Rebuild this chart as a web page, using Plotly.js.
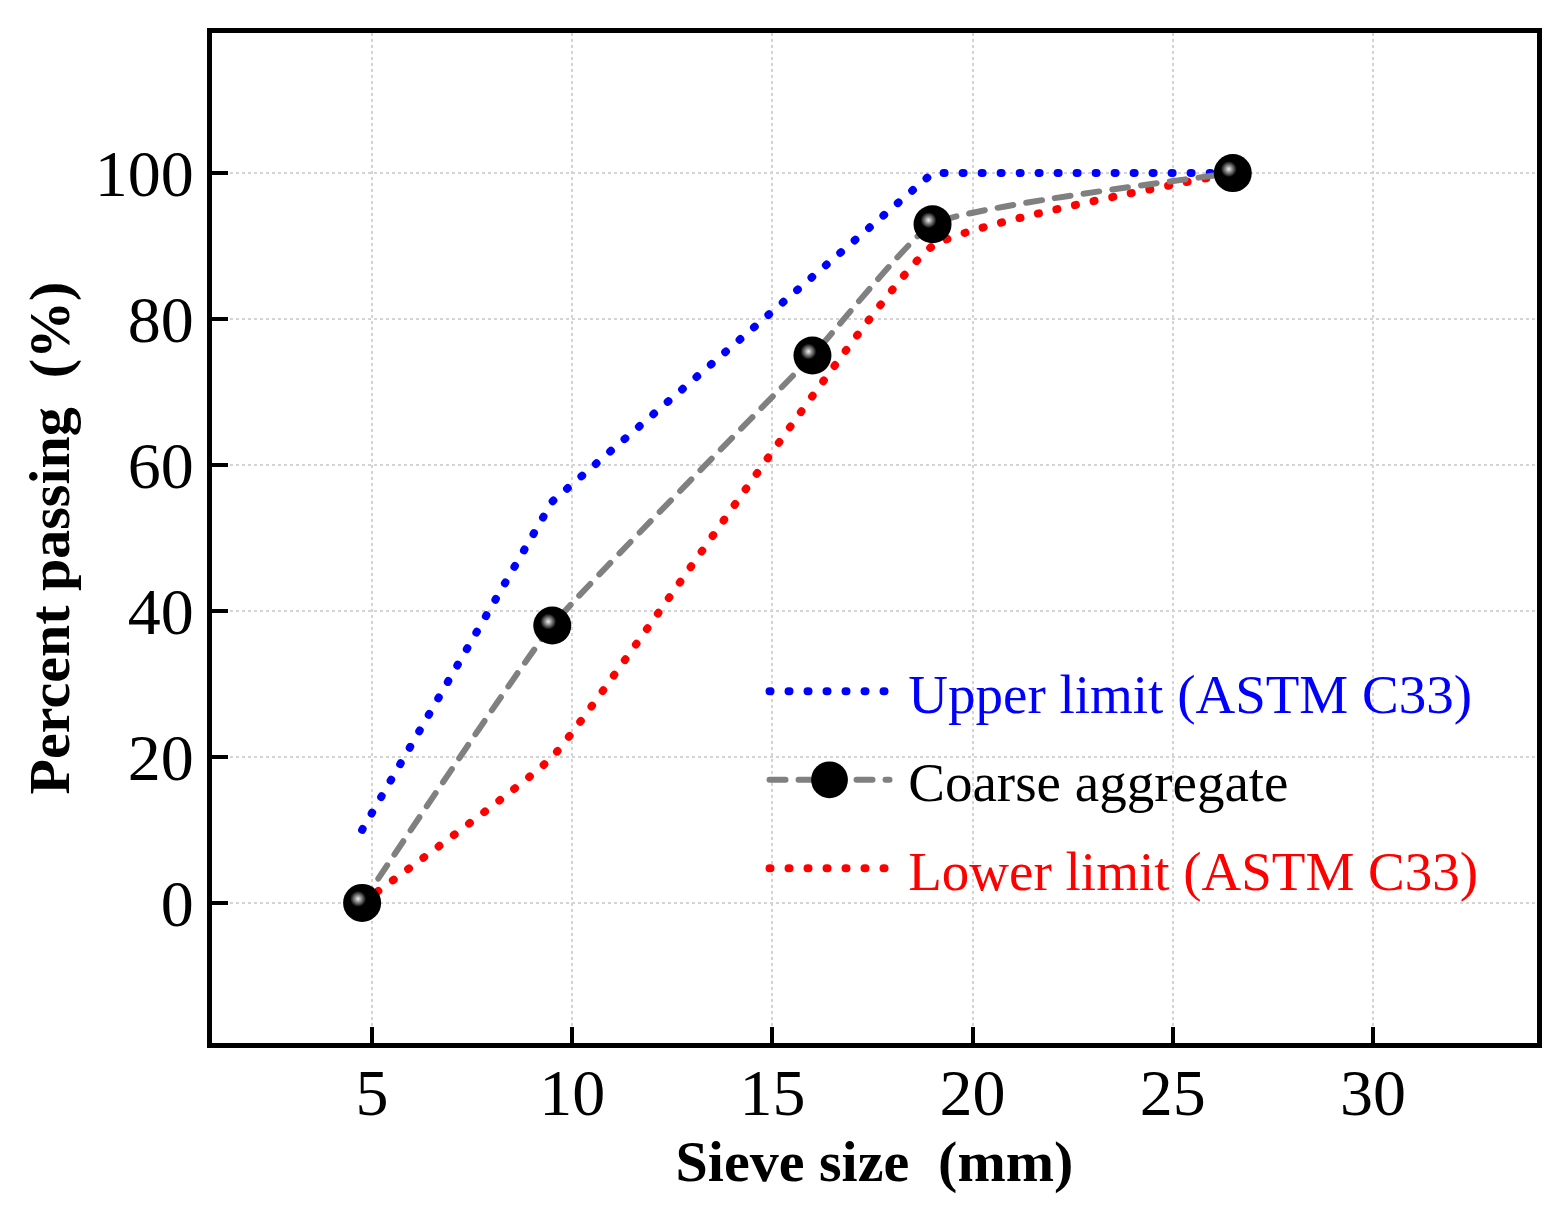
<!DOCTYPE html>
<html>
<head>
<meta charset="utf-8">
<script src="https://cdn.plot.ly/plotly-3.0.1.min.js"></script>
<style>
  body { margin: 0; background: #fff; }
  #myDiv { width: 1568px; height: 1223px; }
</style>
</head>
<body>
<div id="myDiv"></div>
<script>
// sieve sizes (mm) and percent passing
var sieve = [4.75, 9.5, 16, 19, 26.5];
var coarse = [0, 38, 75, 93, 100];

var limitSieve = [4.75, 9.5, 19, 26.5];
var upperLimit = [10, 55, 100, 100];
var lowerLimit = [0, 20, 90, 100];

var xTicks = [5, 10, 15, 20, 25, 30];
var yTicks = [0, 20, 40, 60, 80, 100];

var upper = {
  x: limitSieve,
  y: upperLimit,
  mode: 'lines',
  legendgroup: 'a', legendrank: 1,
  name: '<span style="color:#0000ff">\u00a0Upper limit (ASTM C33)</span>',
  line: {color: '#0000ff', width: 8, dash: '1px,18px'}
};

var lower = {
  x: limitSieve,
  y: lowerLimit,
  mode: 'lines',
  legendgroup: 'c', legendrank: 3,
  name: '<span style="color:#ff0000">\u00a0Lower limit (ASTM C33)</span>',
  line: {color: '#ff0000', width: 8, dash: '1px,18px', shape: 'spline', smoothing: 0.35}
};

var agg = {
  x: sieve,
  y: coarse,
  mode: 'lines+markers',
  legendgroup: 'b', legendrank: 2,
  name: '\u00a0Coarse aggregate',
  line: {color: '#808080', width: 6, dash: '16px,13px', shape: 'spline', smoothing: 0.4},
  marker: {size: 38, color: '#000000', line: {width: 0}}
};

// soft highlight on top of each ball
var shine = {
  x: sieve,
  y: coarse,
  mode: 'markers',
  legendgroup: 'b',
  showlegend: false,
  hoverinfo: 'skip',
  marker: {size: 16, color: '#000000', gradient: {type: 'radial', color: '#f0f0f0'}, line: {width: 0}}
};

var data = [upper, lower, agg, shine];

var layout = {
  width: 1568,
  height: 1223,
  margin: {l: 212, r: 31, t: 33, b: 180},
  paper_bgcolor: '#fff',
  plot_bgcolor: '#fff',
  font: {family: '"Liberation Serif", "Times New Roman", serif', color: '#000'},
  showlegend: true,
  legend: {
    x: 0.417, y: 0.39, xanchor: 'left', yanchor: 'top',
    bgcolor: 'rgba(0,0,0,0)',
    font: {size: 55, color: '#000'},
    itemwidth: 120,
    tracegroupgap: 14
  },
  xaxis: {
    range: [1, 34.1],
    tickvals: xTicks,
    ticks: 'inside', ticklen: 16, tickwidth: 4, tickcolor: '#000',
    ticklabelstandoff: -12,
    showline: true, linewidth: 5, linecolor: '#000', mirror: true,
    showgrid: true, gridcolor: '#d4d4d4', gridwidth: 2, griddash: 'dot',
    zeroline: false,
    tickfont: {size: 66},
    title: {text: '<b>Sieve size\u00a0 (mm)</b>', font: {size: 58}, standoff: 14}
  },
  yaxis: {
    range: [-19.2, 119.2],
    tickvals: yTicks,
    ticks: 'inside', ticklen: 16, tickwidth: 4, tickcolor: '#000',
    showline: true, linewidth: 5, linecolor: '#000', mirror: true,
    showgrid: true, gridcolor: '#d4d4d4', gridwidth: 2, griddash: 'dot',
    zeroline: false,
    tickfont: {size: 66},
    title: {text: '<b>Percent passing\u00a0 (%)</b>', font: {size: 58}, standoff: 8}
  }
};

Plotly.newPlot('myDiv', data, layout, {displayModeBar: false}).then(function () {
  // round caps so the dotted limits show as round dots like the original
  document.querySelectorAll('.js-line, .legendlines path').forEach(function (p) {
    p.style.strokeLinecap = 'round';
  });
  // nudge the highlight up-left, like a lit sphere
  var traces = document.querySelectorAll('.scatterlayer .trace');
  var pts = traces[3].querySelector('.points');
  if (pts) pts.setAttribute('transform', 'translate(-4,-4)');
  // bigger ball in the legend (plotly caps legend markers)
  document.querySelectorAll('.legend .legendpoints path.scatterpts').forEach(function (p) {
    var t = p.getAttribute('transform') || '';
    p.setAttribute('transform', t + ' scale(2.3)');
  });
});
</script>
</body>
</html>
